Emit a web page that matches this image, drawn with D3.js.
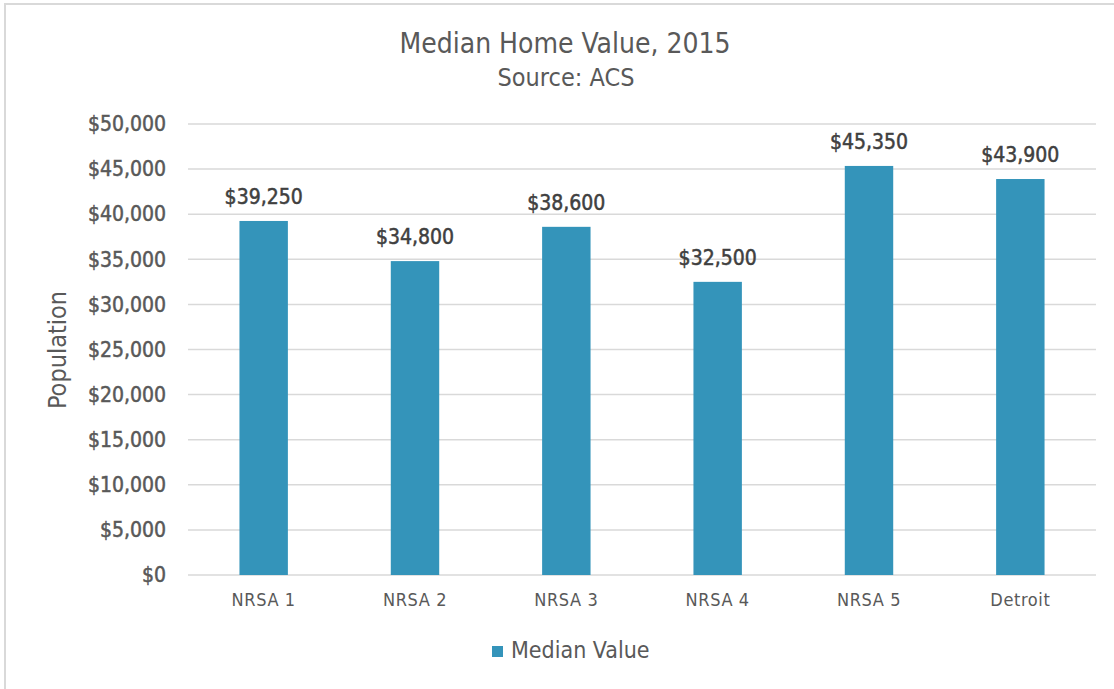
<!DOCTYPE html>
<html>
<head>
<meta charset="utf-8">
<script src="https://cdn.jsdelivr.net/npm/d3@7"></script>
<style>
  body { margin: 0; background: #fff; }
  svg text { font-family: "DejaVu Sans Condensed", "Roboto", sans-serif; }
</style>
</head>
<body>
<svg id="chart" width="1114" height="689"></svg>
<script>
var categories = ['NRSA 1', 'NRSA 2', 'NRSA 3', 'NRSA 4', 'NRSA 5', 'Detroit'];
var medianValues = [39250, 34800, 38600, 32500, 45350, 43900];
var yTicks = [0, 5000, 10000, 15000, 20000, 25000, 30000, 35000, 40000, 45000, 50000];
var seriesName = 'Median Value';

var svg = d3.select('#chart');
var margin = { left: 188, right: 18, top: 124, bottom: 114 };
var width = 1114, height = 689;
var fmt = d3.format('$,');

// outer frame (right / bottom edges fall outside the picture)
svg.append('rect')
  .attr('x', 5).attr('y', 4)
  .attr('width', width + 10).attr('height', height + 10)
  .attr('fill', '#fff').attr('stroke', '#d9d9d9').attr('stroke-width', 2);

var x = d3.scaleBand()
  .domain(categories)
  .range([margin.left, width - margin.right])
  .paddingInner(0.68).paddingOuter(0.34);

var y = d3.scaleLinear()
  .domain([0, 50000])
  .range([height - margin.bottom, margin.top]);

// gridlines
svg.append('g').selectAll('line')
  .data(yTicks)
  .enter().append('line')
  .attr('x1', margin.left).attr('x2', width - margin.right)
  .attr('y1', function(d) { return y(d); })
  .attr('y2', function(d) { return y(d); })
  .attr('stroke', '#d9d9d9').attr('stroke-width', 1.5);

// y axis labels
var yAxis = d3.axisLeft(y).tickValues(yTicks).tickFormat(fmt).tickSize(0).tickPadding(22);
var yg = svg.append('g').attr('transform', 'translate(' + margin.left + ',0)').call(yAxis);
yg.select('.domain').remove();
yg.selectAll('text')
  .attr('fill', '#595959').attr('stroke', '#595959').attr('stroke-width', 0.5)
  .attr('font-size', 21)
  .style('font-family', '"DejaVu Sans Condensed", sans-serif');

// x axis labels
var xAxis = d3.axisBottom(x).tickSize(0).tickPadding(18);
var xg = svg.append('g').attr('transform', 'translate(0,' + (height - margin.bottom) + ')').call(xAxis);
xg.select('.domain').remove();
xg.selectAll('text')
  .attr('fill', '#595959').attr('font-size', 18).attr('letter-spacing', 0.6)
  .style('font-family', '"DejaVu Sans Condensed", sans-serif');

// bars
svg.append('g').selectAll('rect')
  .data(medianValues)
  .enter().append('rect')
  .attr('x', function(d, i) { return x(categories[i]); })
  .attr('width', x.bandwidth())
  .attr('y', function(d) { return y(d); })
  .attr('height', function(d) { return y(0) - y(d); })
  .attr('fill', '#3494ba');

// data labels
svg.append('g').selectAll('text')
  .data(medianValues)
  .enter().append('text')
  .attr('x', function(d, i) { return x(categories[i]) + x.bandwidth() / 2; })
  .attr('y', function(d) { return y(d) - 17; })
  .attr('text-anchor', 'middle')
  .attr('font-size', 21)
  .attr('fill', '#404040').attr('stroke', '#404040').attr('stroke-width', 0.5)
  .text(fmt);

// titles
svg.append('text')
  .attr('x', 565).attr('y', 53)
  .attr('text-anchor', 'middle').attr('font-size', 28).attr('fill', '#595959')
  .text('Median Home Value, 2015');
svg.append('text')
  .attr('x', 566).attr('y', 86)
  .attr('text-anchor', 'middle').attr('font-size', 25).attr('fill', '#595959')
  .text('Source: ACS');

// y axis title
svg.append('text')
  .attr('transform', 'translate(66,350) rotate(-90)')
  .attr('text-anchor', 'middle').attr('font-size', 25).attr('fill', '#595959')
  .text('Population');

// legend
var lg = svg.append('g').attr('transform', 'translate(492,646)');
lg.append('rect').attr('width', 11).attr('height', 11).attr('fill', '#3494ba');
lg.append('text')
  .attr('x', 19).attr('y', 12)
  .attr('font-size', 23).attr('fill', '#595959')
  .text(seriesName);
</script>
</body>
</html>
